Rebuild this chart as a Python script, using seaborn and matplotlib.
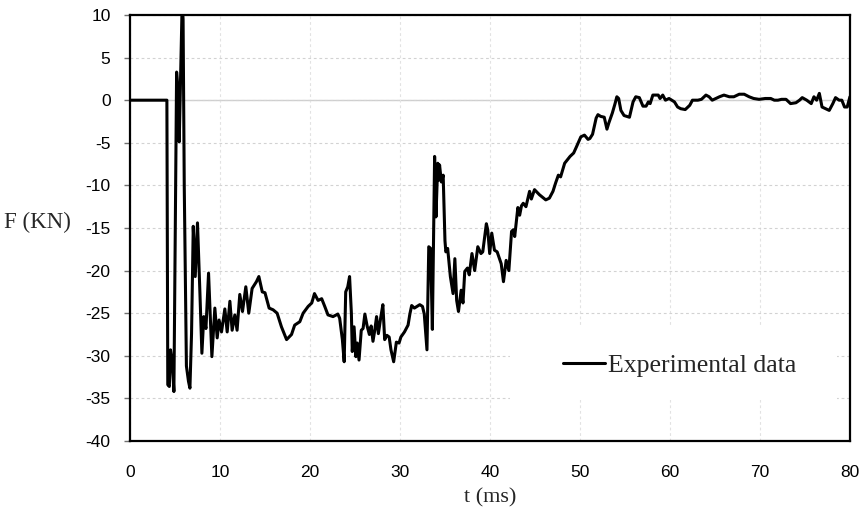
import numpy as np
import pandas as pd
import seaborn as sns
import matplotlib.pyplot as plt
from matplotlib.patches import Rectangle

# time (ms) and force (kN)
t_ms = [0, 4.1, 4.2, 4.37, 4.5, 4.7, 4.88, 5.18, 5.35, 5.47, 5.8, 5.9, 6.03, 6.27, 6.5, 6.66,
        6.84, 7.03, 7.25, 7.5, 7.77, 7.99, 8.2, 8.44, 8.73, 9.1, 9.43, 9.69, 9.9, 10.17,
        10.54, 10.8, 11.1, 11.35, 11.65, 11.9, 12.2, 12.5, 12.87, 13.2, 13.57, 14.05, 14.32,
        14.7, 15.0, 15.46, 15.9, 16.35, 16.83, 17.4, 17.95, 18.3, 18.87, 19.24, 19.8, 20.2,
        20.5, 20.9, 21.3, 21.64, 22.0, 22.56, 23.1, 23.3, 23.6, 23.8, 23.97, 24.2, 24.4,
        24.6, 24.7, 24.9, 25.1, 25.25, 25.45, 25.7, 25.9, 26.1, 26.35, 26.6, 26.8, 27.0,
        27.2, 27.4, 27.6, 27.85, 28.1, 28.3, 28.55, 28.8, 29.0, 29.3, 29.6, 29.9, 30.1,
        30.5, 30.9, 31.1, 31.3, 31.6, 32.2, 32.5, 32.7, 33.0, 33.2, 33.4, 33.6, 33.85,
        34.0, 34.2, 34.3, 34.4, 34.6, 34.8, 35.0, 35.1, 35.3, 35.6, 35.9, 36.1, 36.3,
        36.5, 36.8, 37.0, 37.2, 37.5, 37.7, 38.0, 38.3, 38.65, 39.0, 39.2, 39.6, 39.75,
        39.97, 40.2, 40.5, 40.8, 41.06, 41.25, 41.5, 41.8, 42.1, 42.4, 42.6, 42.75, 43.1,
        43.3, 43.5, 43.7, 44.0, 44.4, 44.6, 44.95, 45.5, 46.2, 46.6, 47.0, 47.3, 47.6,
        47.85, 48.3, 48.6, 48.9, 49.3, 49.6, 50.1, 50.5, 50.9, 51.1, 51.4, 51.8, 52.0,
        52.3, 52.7, 53.0, 53.2, 53.6, 53.9, 54.1, 54.3, 54.55, 54.9, 55.5, 55.9, 56.2,
        56.6, 57.0, 57.35, 57.6, 57.8, 58.1, 58.7, 58.9, 59.2, 59.5, 59.9, 60.5, 60.85,
        61.2, 61.7, 62.2, 62.5, 63.1, 63.5, 64.0, 64.35, 64.7, 65.1, 65.5, 66.0, 66.6,
        67.1, 67.7, 68.25, 68.8, 69.3, 69.9, 70.6, 71.2, 71.6, 72.0, 72.4, 72.9, 73.4,
        74.0, 74.4, 74.7, 75.2, 75.7, 76.0, 76.3, 76.6, 76.9, 77.3, 77.7, 78.1, 78.4,
        78.8, 79.1, 79.4, 79.7, 80.0]
force_kn = [0, 0, -33.4, -33.6, -29.3, -30.8, -34.2, 3.3, 1.0, -4.9, 11.5, 9.5, -10.1, -31.2,
            -33.0, -33.8, -27.4, -14.8, -20.7, -14.4, -22.6, -29.7, -25.4, -26.8, -20.3,
            -30.1, -24.4, -27.9, -25.8, -27.2, -24.5, -27.2, -23.6, -27.0, -25.2, -27.0,
            -22.8, -24.8, -21.9, -25.0, -22.1, -21.3, -20.7, -22.5, -22.6, -24.4, -24.6,
            -25.0, -26.6, -28.1, -27.5, -26.4, -26.0, -25.0, -24.2, -23.8, -22.7, -23.5,
            -23.3, -24.2, -25.2, -25.4, -25.1, -25.6, -28.1, -30.7, -22.5, -21.9, -20.7,
            -25.0, -29.5, -26.6, -30.1, -28.5, -30.5, -27.0, -26.8, -25.1, -26.5, -27.5,
            -26.5, -28.3, -27.0, -25.4, -27.4, -25.6, -24.0, -28.1, -27.6, -27.8, -29.3,
            -30.7, -28.4, -28.5, -27.8, -27.2, -26.4, -25.1, -24.1, -24.4, -24.0, -24.2,
            -25.1, -29.3, -17.2, -17.4, -26.9, -6.6, -13.7, -7.4, -9.4, -7.6, -9.6, -8.8,
            -16.5, -17.8, -17.4, -20.7, -22.7, -18.6, -23.5, -24.8, -22.3, -23.8, -20.1,
            -19.7, -20.5, -18.0, -20.0, -17.2, -18.0, -17.8, -14.5, -15.2, -18.0, -15.6,
            -17.6, -17.8, -18.6, -19.2, -21.3, -18.8, -20.0, -15.4, -15.2, -16.0, -12.6,
            -13.5, -12.4, -12.1, -12.5, -10.7, -11.6, -10.5, -11.1, -11.7, -11.5, -10.7,
            -9.7, -8.8, -9.0, -7.4, -7.0, -6.6, -6.2, -5.5, -4.3, -4.1, -4.6, -4.5, -4.0,
            -2.1, -1.7, -1.9, -2.0, -3.4, -2.7, -1.5, -0.4, 0.4, 0.2, -1.2, -1.8, -2.0,
            -0.2, 0.4, 0.3, -0.7, -0.7, -0.2, -0.4, 0.6, 0.6, 0.2, 0.6, 0.0, 0.2, -0.2,
            -0.8, -1.0, -1.1, -0.6, 0.0, 0.0, 0.1, 0.6, 0.4, 0.0, 0.2, 0.4, 0.6, 0.4, 0.4,
            0.7, 0.7, 0.4, 0.2, 0.1, 0.2, 0.2, 0.0, 0.0, 0.1, 0.1, -0.4, -0.3, 0.0, 0.3,
            0.0, -0.4, 0.4, 0.0, 0.8, -0.8, -1.0, -1.2, -0.4, 0.3, 0.0, 0.0, -0.8, -0.8, 0.4]

x_ticks = list(range(0, 81, 10))
y_ticks = list(range(-40, 11, 5))

df = pd.DataFrame({"t": t_ms, "F": force_kn})

sns.set_theme(style="white")
plt.rcParams["font.family"] = ["Liberation Sans", "DejaVu Sans"]
plt.rcParams["axes.unicode_minus"] = False
serif = ["Liberation Serif", "DejaVu Serif"]

fig = plt.figure(figsize=(8.62, 5.15), dpi=100)
ax = fig.add_axes([0.1508, 0.1437, 0.8352, 0.8272])

ax.set_axisbelow(True)
ax.yaxis.grid(True, ls=(0, (2.5, 2.5)), color="#d2d2d2", lw=0.8)
ax.xaxis.grid(True, ls=(0, (2.5, 2.5)), color="#e2e2e2", lw=0.8)
ax.axhline(0, color="#cfcfcf", lw=1.0, zorder=0.5)

# white block behind the legend, as in the original
ax.add_patch(Rectangle((0.528, 0.096), 0.454, 0.172, transform=ax.transAxes,
                       facecolor="white", edgecolor="none", zorder=1))

sns.lineplot(data=df, x="t", y="F", ax=ax, color="black", lw=2.2,
             estimator=None, sort=False, label="Experimental data", zorder=3)

ax.set_xlim(0, 80)
ax.set_ylim(-40, 10)
ax.set_xticks(x_ticks)
ax.set_yticks(y_ticks)
ax.tick_params(axis="x", length=0, pad=17, labelsize=12.5, colors="black")
ax.tick_params(axis="y", length=4, width=1, color="#707070", pad=10, labelsize=12.5,
               labelcolor="black", left=True)

for s in ax.spines.values():
    s.set_color("black")
    s.set_linewidth(1.6)

ax.set_xlabel("t (ms)", family=serif, fontsize=16, va="center")
ax.xaxis.set_label_coords(0.5, -0.134)
ax.set_ylabel("F (KN)", family=serif, fontsize=16.5, rotation=0, ha="center", va="center")
ax.yaxis.set_label_coords(-0.128, 0.514)

leg = ax.legend(loc="center left", bbox_to_anchor=(0.601, 0.178), frameon=False,
                borderpad=0, borderaxespad=0, handlelength=1.65, handletextpad=0.1,
                prop={"family": serif, "size": 18.5})
for h in leg.get_lines():
    h.set_linewidth(2.2)

fig.savefig("out.png", dpi=100)
